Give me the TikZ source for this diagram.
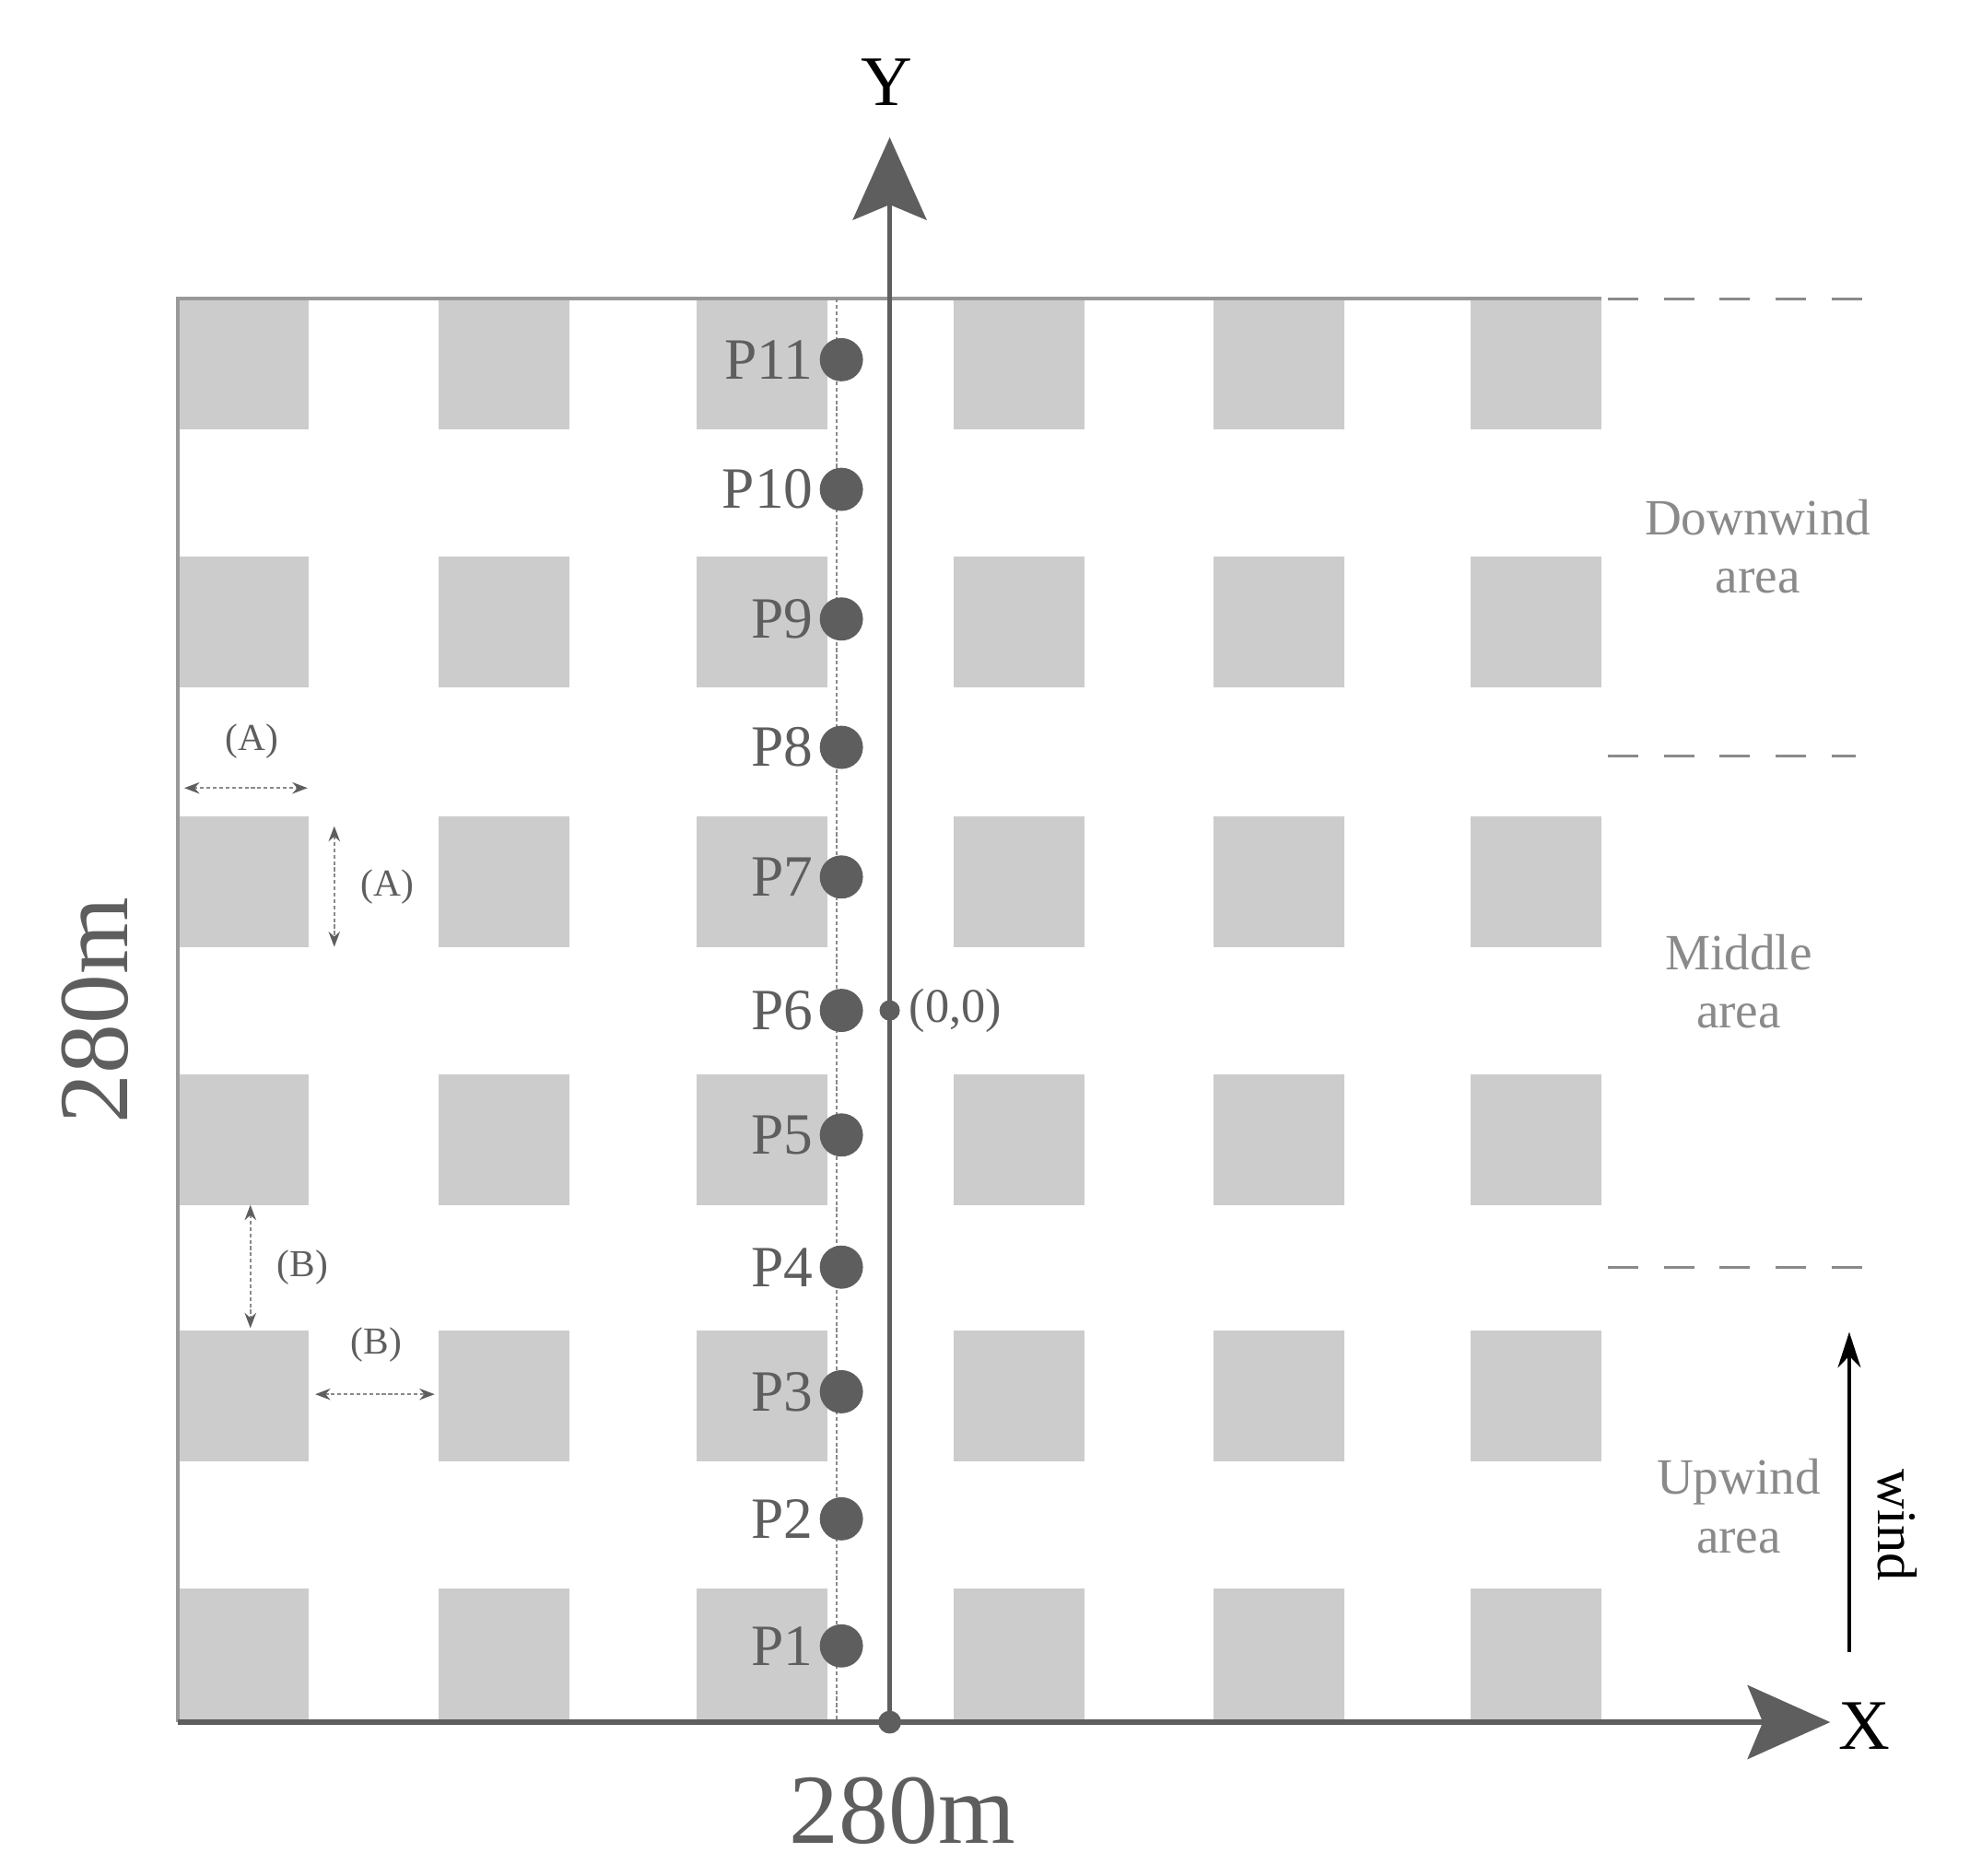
\documentclass[tikz,border=0pt]{standalone}
\usepackage{fontspec}
\setmainfont{Liberation Serif}
\usetikzlibrary{arrows.meta}
\definecolor{blk}{HTML}{CCCCCC}
\definecolor{dk}{HTML}{5E5E5E}
\definecolor{lt}{HTML}{8A8A8A}
\tikzset{
  pt/.style={circle,fill=dk,inner sep=0pt,minimum size=34pt},
  plab/.style={anchor=east,text=dk,font=\fontsize{46}{46}\selectfont,inner sep=0pt},
  area/.style={text=lt,align=center,font=\fontsize{40}{46}\selectfont},
  dim/.style={lt,densely dashed,line width=1.5pt,{Stealth[length=12pt,width=9pt,color=dk]}-{Stealth[length=12pt,width=9pt,color=dk]}},
  dimlab/.style={text=dk,font=\fontsize{30}{30}\selectfont},
  zone/.style={lt,dash pattern=on 24pt off 20pt,line width=2pt},
  axis/.style={dk,line width=4pt,-{Stealth[length=65pt,width=58pt,inset=12pt]}}
}
\begin{document}
\begin{tikzpicture}[x=1pt,y=-1pt]
\useasboundingbox (0,0) rectangle (1550,1476);
% blocks
\foreach \x in {140,345,548,750,955,1157}
  \foreach \y in {235,438,642,845,1047,1250}
    \fill[blk] (\x,\y) rectangle ++(103,103);
\draw[gray!80,line width=3pt] (140,1355) -- (140,235) -- (1260,235);
% dashed vertical
\draw[lt,densely dashed,line width=1.5pt] (658,235) -- (658,1355);
% axes
\coordinate (O) at (700,1355);
\coordinate (Ytip) at (700,108);
\coordinate (Xtip) at (1440,1355);
\coordinate (Xs) at (140,1355);
\draw[axis] (O) -- (Ytip);
\draw[axis] (Xs) -- (Xtip);
\fill[dk] (O) circle (9pt);
\node[text=black,font=\fontsize{56}{56}\selectfont] (Y) at (698,65) {Y};
\node[text=black,font=\fontsize{56}{56}\selectfont] (X) at (1467,1358) {X};
\node[text=dk,font=\fontsize{78}{78}\selectfont] (bw) at (710,1425) {280m};
\node[text=dk,font=\fontsize{78}{78}\selectfont,rotate=90] (lw) at (75,795) {280m};
% points
\foreach \i/\y in {1/1295,2/1195,3/1095,4/997,5/893,6/795,7/690,8/588,9/487,10/385,11/283}{
  \node[pt] (P\i) at (662,\y) {};
  \node[plab] (L\i) at (640,\y) {P\i};
}
\node[circle,fill=dk,inner sep=0pt,minimum size=16pt] (o) at (700,795) {};
\node[anchor=west,text=dk,font=\fontsize{38}{38}\selectfont] (ol) at (712,795) {(0,0)};
% right zones
\draw[zone] (1265,235) -- (1470,235);
\draw[zone] (1265,595) -- (1460,595);
\draw[zone] (1265,997) -- (1470,997);
\node[area] (dw) at (1383,430) {Downwind\\area};
\node[area] (md) at (1368,772) {Middle\\area};
\node[area] (uw) at (1368,1185) {Upwind\\area};
\coordinate (w1) at (1455,1300);
\coordinate (w2) at (1455,1048);
\draw[black,line width=3pt,-{Stealth[length=28pt,width=18pt]}] (w1) -- (w2);
\node[rotate=-90,text=black,font=\fontsize{44}{44}\selectfont] (wl) at (1493,1200) {wind};
% dimension arrows
\coordinate (a1) at (145,620); \coordinate (a2) at (242,620);
\draw[dim] (a1) -- (a2);
\node[dimlab] (la1) at (198,583) {(A)};
\coordinate (a3) at (263,650); \coordinate (a4) at (263,745);
\draw[dim] (a3) -- (a4);
\node[dimlab] (la2) at (305,698) {(A)};
\coordinate (b1) at (197,948); \coordinate (b2) at (197,1045);
\draw[dim] (b1) -- (b2);
\node[dimlab] (lb1) at (238,997) {(B)};
\coordinate (b3) at (248,1097); \coordinate (b4) at (342,1097);
\draw[dim] (b3) -- (b4);
\node[dimlab] (lb2) at (296,1058) {(B)};
\end{tikzpicture}
\end{document}
